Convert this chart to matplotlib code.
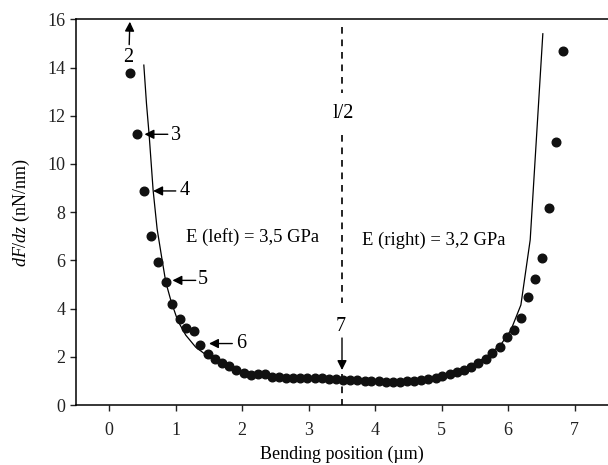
import numpy as np
import matplotlib
matplotlib.use('Agg')
import matplotlib.pyplot as plt

plt.rcParams['font.family'] = ['Liberation Serif', 'DejaVu Serif']
plt.rcParams['mathtext.fontset'] = 'custom'
plt.rcParams['mathtext.rm'] = 'Liberation Serif'
plt.rcParams['mathtext.it'] = 'Liberation Serif:italic'

# measured stiffness along the beam
pos_um = [0.31, 0.41, 0.52, 0.63, 0.74, 0.85, 0.95, 1.06, 1.16, 1.27,
          1.37, 1.48, 1.59, 1.70, 1.80, 1.91, 2.02, 2.13, 2.23, 2.34,
          2.44, 2.55, 2.66, 2.77, 2.87, 2.98, 3.09, 3.20, 3.30, 3.41,
          3.52, 3.62, 3.73, 3.84, 3.94, 4.05, 4.16, 4.26, 4.37, 4.48,
          4.58, 4.69, 4.80, 4.91, 5.01, 5.12, 5.23, 5.33, 5.44, 5.55,
          5.66, 5.76, 5.87, 5.98, 6.08, 6.19, 6.29, 6.40, 6.51, 6.62,
          6.72, 6.83]
dfdz = [13.79, 11.26, 8.87, 7.00, 5.95, 5.12, 4.18, 3.56, 3.18, 3.08,
        2.48, 2.10, 1.90, 1.73, 1.63, 1.45, 1.34, 1.24, 1.27, 1.27,
        1.15, 1.15, 1.14, 1.14, 1.13, 1.13, 1.12, 1.10, 1.08, 1.06,
        1.05, 1.03, 1.02, 1.00, 0.99, 0.98, 0.97, 0.97, 0.97, 0.99,
        1.01, 1.05, 1.09, 1.14, 1.20, 1.27, 1.36, 1.45, 1.56, 1.73,
        1.91, 2.14, 2.42, 2.84, 3.11, 3.61, 4.47, 5.21, 6.11, 8.19,
        10.93, 14.69]

# model curve (E left = 3.5 GPa, E right = 3.2 GPa)
fit_x = [0.52, 0.56, 0.60, 0.66, 0.72, 0.79, 0.85, 0.93, 1.03, 1.15,
         1.30, 1.47, 1.70, 2.00, 2.30, 2.60, 3.00, 3.50, 4.00, 4.40,
         4.80, 5.10, 5.40, 5.70, 5.90, 6.04, 6.19, 6.33, 6.52]
fit_y = [14.1, 12.5, 11.2, 8.9, 7.3, 6.1, 5.1, 4.3, 3.5, 2.9,
         2.4, 2.05, 1.7, 1.4, 1.25, 1.17, 1.12, 1.06, 1.0, 0.98,
         1.08, 1.25, 1.55, 2.05, 2.55, 3.11, 4.15, 6.85, 15.4]

# numbered markers: (label, text x, text y, tail x, tail y, head x, head y)
marks = [('2', 0.29, 14.4, 0.30, 14.95, 0.31, 15.9),
         ('3', 1.00, 11.2, 0.88, 11.23, 0.53, 11.23),
         ('4', 1.13, 8.88, 1.00, 8.88, 0.66, 8.88),
         ('5', 1.40, 5.19, 1.30, 5.17, 0.95, 5.17),
         ('6', 1.99, 2.56, 1.85, 2.55, 1.50, 2.55),
         ('7', 3.48, 3.25, 3.50, 2.78, 3.50, 1.45)]

fig = plt.figure(figsize=(6.08, 4.65), dpi=100)
ax = fig.add_axes([0.125, 0.129, 0.875, 0.8295])

ax.plot(fit_x, fit_y, color='black', lw=0.9, zorder=2)
ax.plot(pos_um, dfdz, 'o', color='#111111', ms=6.2, mec='#111111', zorder=3)

# half-length line, broken around its labels
for y0, y1 in [(15.7, 12.95), (11.2, 4.25), (1.3, 0.0)]:
    ax.plot([3.5, 3.5], [y0, y1], color='black', lw=1.2,
            dashes=(4, 3.5), zorder=1)
ax.text(3.52, 12.1, 'l/2', ha='center', va='center', fontsize=14.5)

for lab, tx, ty, x0, y0, x1, y1 in marks:
    ax.annotate('', xy=(x1, y1), xytext=(x0, y0),
                arrowprops=dict(arrowstyle='-|>', color='black', lw=1.0,
                                mutation_scale=14, shrinkA=0, shrinkB=0))
    ax.text(tx, ty, lab, ha='center', va='center', fontsize=14.5)

ax.text(1.16, 6.95, 'E (left) = 3,5 GPa', ha='left', va='center', fontsize=13.4)
ax.text(3.80, 6.82, 'E (right) = 3,2 GPa', ha='left', va='center', fontsize=13.4)

ax.set_xlim(-0.5, 7.5)
ax.set_ylim(0, 16)
ax.set_xticks(range(0, 8))
ax.set_yticks(range(0, 17, 2))
ax.tick_params(direction='out', length=4, width=1, labelsize=13, colors='#222222')
ax.tick_params(axis='x', pad=8)
ax.spines['right'].set_visible(False)
for s in ['left', 'bottom', 'top']:
    ax.spines[s].set_linewidth(1.1)

ax.set_xlabel('Bending position (µm)', fontsize=13, labelpad=5)
ax.set_ylabel(r'$dF/dz$ (nN/nm)', fontsize=13, labelpad=11)

fig.savefig('out.png', dpi=100)
